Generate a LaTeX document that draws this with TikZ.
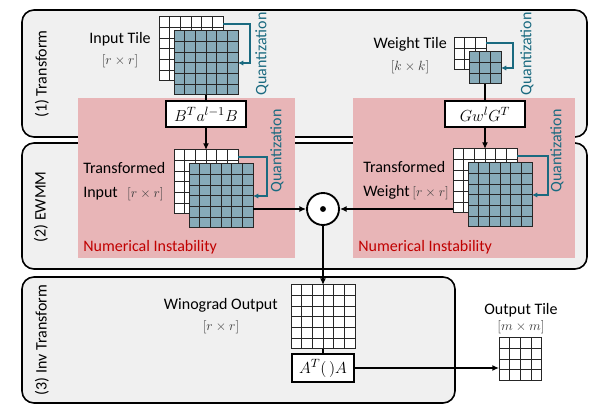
\documentclass[tikz,border=0pt]{standalone}
\usepackage{fontspec}
\setmainfont{Carlito}
\usetikzlibrary{arrows.meta,positioning}

\definecolor{panelgray}{HTML}{F0F0F0}
\definecolor{instpink}{HTML}{E8B5B7}
\definecolor{quantteal}{HTML}{1A6A80}
\definecolor{quantcell}{HTML}{87ABB9}
\definecolor{alertred}{HTML}{C00000}
\definecolor{dimgray}{HTML}{404040}

\tikzset{
 panel/.style={draw=black,line width=1.2pt,fill=panelgray,rounded corners=9pt},
 tile/.style={draw=black!85,line width=0.75pt,inner sep=0pt,outer sep=0pt},
 cellline/.style={draw=black!85,line width=0.75pt},
 opbox/.style={draw=black,line width=1.5pt,fill=white,inner sep=0pt,
   minimum width=60pt,minimum height=19.5pt,font=\fontsize{13}{15}\selectfont},
 lbl/.style={font=\fontsize{12}{14}\selectfont,inner sep=0pt},
 dimlbl/.style={text=dimgray,font=\fontsize{10}{12}\selectfont,inner sep=0pt},
 stage/.style={lbl,rotate=90},
 quant/.style={draw=quantteal,line width=1.4pt,-{Latex[length=4pt,width=4pt]}},
 quantlbl/.style={lbl,text=quantteal,rotate=90},
 flow/.style={line width=1.2pt,-{Latex[length=5pt,width=4.5pt]}},
 link/.style={line width=1.2pt},
 alert/.style={lbl,text=alertred,anchor=west},
}

% grid tile: name, north west corner, cells per side, fill
\newcommand{\tilegrid}[4]{%
 \node[tile,fill=#4,minimum size=#3*8pt,anchor=north west] (#1) at #2 {};
 \pgfmathtruncatemacro{\lastcell}{#3-1}
 \foreach \k in {1,...,\lastcell}{
  \draw[cellline] ([xshift=\k*8pt]#1.north west) -- ([xshift=\k*8pt]#1.south west);
  \draw[cellline] ([yshift=-\k*8pt]#1.north west) -- ([yshift=-\k*8pt]#1.north east);
 }
}

\begin{document}
\begin{tikzpicture}[x=0.75pt,y=-0.75pt]
 \useasboundingbox (0,0) rectangle (596,416);

 % stages
 \draw[panel] (22,10) rectangle (587,137);
 \draw[panel] (22,143) rectangle (587,269);
 \draw[panel] (22,277) rectangle (455,403);
 \node[stage] (s1) at (42,74) {(1) Transform};
 \node[stage] (s2) at (41,207) {(2) EWMM};
 \node[stage] (s3) at (42,340) {(3) Inv Transform};

 % unstable regions
 \fill[instpink] (78,98) rectangle (295,258);
 \fill[instpink] (353,98) rectangle (575,258);
 \node[alert] (ni1) at (83,247) {Numerical Instability};
 \node[alert] (ni2) at (358,247) {Numerical Instability};

 % input side
 \tilegrid{inb}{(159,17)}{6}{white}
 \tilegrid{inf}{(174,31)}{6}{quantcell}
 \node[lbl,anchor=east] (intile) at (151,39) {Input Tile};
 \node[dimlbl] (indim) at (120,61) {$[r\times r]$};
 \draw[quant] ([yshift=-5pt]inb.north east) -- ++(20pt,0) |- (inf.east);
 \node[quantlbl] (q1) at (262,54) {Quantization};
 \node[opbox] (bin) at (206,114) {$B^{T}a^{l-1}B$};
 \draw[link] (inf.south) -- (bin.north);

 \tilegrid{tib}{(174,150)}{6}{white}
 \tilegrid{tif}{(189,164)}{6}{quantcell}
 \node[lbl,align=left,anchor=west] (tilbl) at (83,182)
   {Transformed\\[4pt]Input\hspace{7pt}{\color{dimgray}\fontsize{10}{12}\selectfont$[r\times r]$}};
 \draw[quant] ([yshift=-5pt]tib.north east) -- ++(22pt,0) |- (tif.east);
 \node[quantlbl] (q3) at (277,151) {Quantization};
 \draw[flow] (bin.south) -- (tib.north);

 % weight side
 \tilegrid{wtb}{(454,38)}{3}{white}
 \tilegrid{wtf}{(469,52)}{3}{quantcell}
 \node[lbl,anchor=east] (wttile) at (447,44) {Weight Tile};
 \node[dimlbl] (wtdim) at (410,67) {$[k\times k]$};
 \draw[quant] ([yshift=-4pt]wtb.north east) -- ++(20pt,0) |- (wtf.east);
 \node[quantlbl] (q2) at (527,54) {Quantization};
 \node[opbox] (bwt) at (485,114) {$Gw^{l}G^{T}$};
 \draw[link] (wtf.south) -- (bwt.north);

 \tilegrid{twb}{(453,149)}{6}{white}
 \tilegrid{twf}{(468,163)}{6}{quantcell}
 \node[lbl,align=left,anchor=west] (twlbl) at (363,181)
   {Transformed\\[4pt]Weight\hspace{2pt}{\color{dimgray}\fontsize{10}{12}\selectfont$[r\times r]$}};
 \draw[quant] ([yshift=-5pt]twb.north east) -- ++(23pt,0) |- (twf.east);
 \node[quantlbl] (q4) at (557,151) {Quantization};
 \draw[flow] (bwt.south) -- (twb.north);

 % element-wise product
 \node[circle,draw,line width=1.4pt,fill=white,minimum size=24pt,inner sep=0pt] (ewmm) at (323,209) {};
 \fill (ewmm.center) circle[radius=2.2pt];
 \draw[flow] (tif.east |- ewmm.west) -- (ewmm.west);
 \draw[flow] (twb.west |- ewmm.east) -- (ewmm.east);

 % inverse transform
 \tilegrid{wo}{(291,285)}{6}{white}
 \node[lbl,anchor=east] (wolbl) at (278,305) {Winograd Output};
 \node[dimlbl] (wodim) at (221,327) {$[r\times r]$};
 \draw[flow] (ewmm.south) -- (wo.north);
 \node[opbox,minimum width=47pt,minimum height=21pt] (binv) at (323,368) {$A^{T}(\,)A$};
 \draw[link] (wo.south) -- (binv.north);

 \tilegrid{ot}{(499,338)}{4}{white}
 \node[lbl] (otlbl) at (521,310) {Output Tile};
 \node[dimlbl] (otdim) at (521,327) {$[m\times m]$};
 \draw[flow] (binv.east) -- (binv.east -| ot.west);
\end{tikzpicture}
\end{document}
